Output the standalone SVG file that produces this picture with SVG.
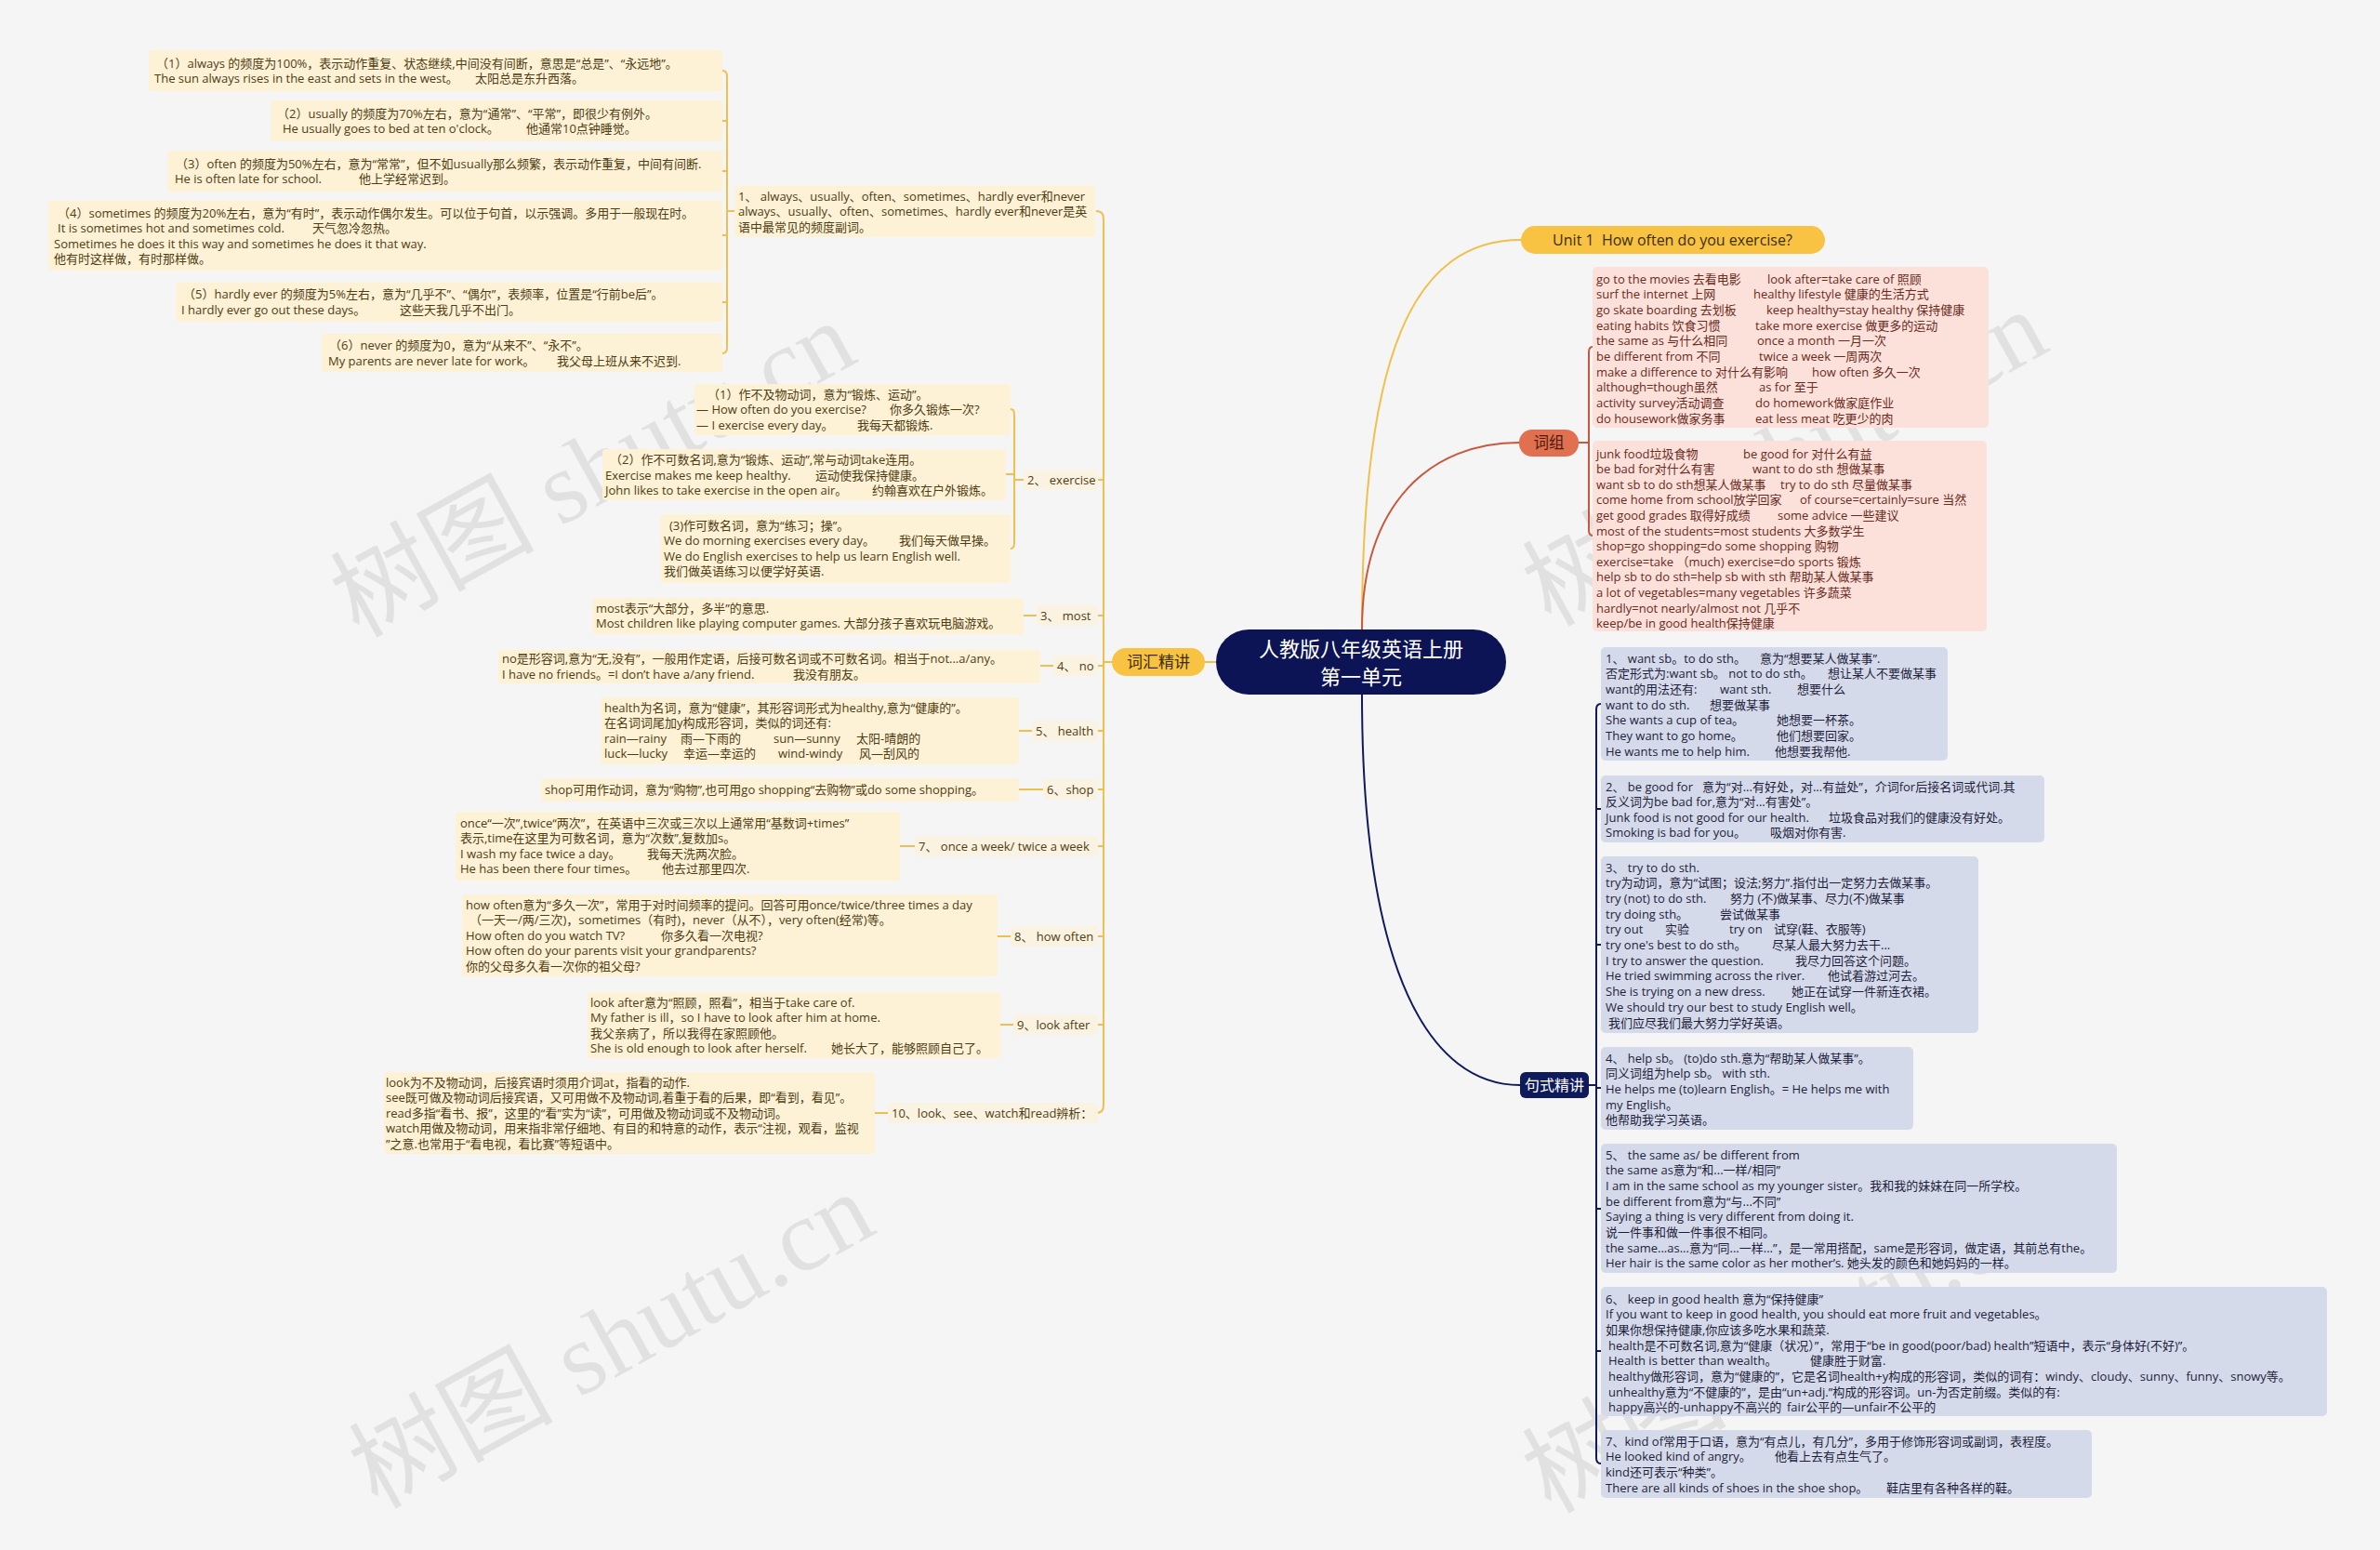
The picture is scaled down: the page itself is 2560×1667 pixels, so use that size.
<svg xmlns="http://www.w3.org/2000/svg" width="2560" height="1667" viewBox="0 0 2560 1667">
<style>
text{font-family:"Open Sans","Noto Sans CJK SC",sans-serif;font-size:13px;}
.y{fill:#4f3d12}
.p{fill:#6b2a1c}
.b{fill:#1e1e3c}
.by{fill:#fdf1d6}
.bl{fill:#fbf3e1}
.bp{fill:#fbe1da}
.bb{fill:#d5daea}
.cy{fill:none;stroke:#f0c04a;stroke-width:2}
.cr{fill:none;stroke:#c9573c;stroke-width:2}
.cn{fill:none;stroke:#0e1a5c;stroke-width:2}
.wm{font-family:"Liberation Serif","Noto Sans CJK SC",serif;font-size:110px;fill:#000;fill-opacity:0.08}
</style>
<rect x="0" y="0" width="2560" height="1667" fill="#f5f5f5"/>

<g id="watermark">
<text class="wm" x="645" y="540" text-anchor="middle" transform="rotate(-29 645 518)">树图 shutu.cn</text>
<text class="wm" x="665" y="1477" text-anchor="middle" transform="rotate(-29 665 1455)">树图 shutu.cn</text>
<text class="wm" x="1927" y="528" text-anchor="middle" transform="rotate(-29 1927 506)">树图 shutu.cn</text>
<text class="wm" x="1927" y="1482" text-anchor="middle" transform="rotate(-29 1927 1460)">树图 shutu.cn</text>
</g>

<g id="connectors">
<path class="cy" d="M1465,677 C1465,380 1520,258 1636,258"/>
<path class="cr" d="M1465,677 C1465,540 1540,476 1634,476"/>
<path class="cn" d="M1465,747 C1465,1050 1540,1167 1635,1167"/>
<path class="cy" d="M1296,712 H1308"/>
<path class="cy" d="M1179,227 Q1187,227 1187,235 V1189 Q1187,1197 1179,1197"/>
<path class="cy" d="M1187,712 H1196 M1181,516 H1187 M1181,662 H1187 M1181,716 H1187 M1181,786 H1187 M1181,849 H1187 M1181,910 H1187 M1181,1007 H1187 M1181,1102 H1187"/>
<path class="cy" d="M777,76 Q782,76 782,82 V374 Q782,380 777,380 M777,130 H782 M777,184 H782 M777,253 H782 M777,325 H782 M782,227 H790"/>
<path class="cy" d="M1087,440 Q1091,440 1091,446 V584 Q1091,590 1087,590 M1082,510 H1091 M1091,516 H1101"/>
<path class="cy" d="M1101,662 H1115 M1119,716 H1133 M1096,786 H1110 M1096,849 H1122 M968,910 H984 M1073,1007 H1087 M1076,1102 H1090 M941,1197 H955"/>
<path class="cr" d="M1713,373 Q1709,373 1709,379 V570 Q1709,576 1713,576 M1698,476 H1709"/>
<path class="cn" d="M1722,757 Q1717,757 1717,763 V1568 Q1717,1574 1722,1574 M1717,870 H1722 M1717,1016 H1722 M1717,1170 H1722 M1717,1300 H1722 M1717,1453 H1722 M1709,1167 H1717"/>
</g>

<g id="root">
<rect x="1308" y="677" width="312" height="70" rx="35" fill="#0c1456"/>
<text x="1464" y="706" text-anchor="middle" fill="#ffffff" style="font-size:22px">人教版八年级英语上册</text>
<text x="1464" y="736" text-anchor="middle" fill="#ffffff" style="font-size:22px">第一单元</text>
</g>

<g id="unit1">
<rect x="1636" y="243" width="327" height="30" rx="15" fill="#f8c243"/>
<text x="1799" y="264" text-anchor="middle" fill="#3d2d05" style="font-size:16px" xml:space="preserve">Unit 1  How often do you exercise?</text>
</g>

<g id="cihui">
<rect x="1196" y="697" width="100" height="30" rx="15" fill="#f8c243"/>
<text x="1246" y="718" text-anchor="middle" fill="#3d2d05" style="font-size:17px">词汇精讲</text>
</g>

<g id="cizu">
<rect x="1634" y="462" width="64" height="29" rx="14" fill="#e0704f"/>
<text x="1666" y="482" text-anchor="middle" fill="#4b1a0c" style="font-size:16.5px">词组</text>
</g>

<g id="jushi">
<rect x="1635" y="1153" width="74" height="28" rx="6" fill="#0e1a5c"/>
<text x="1672" y="1173" text-anchor="middle" fill="#ffffff" style="font-size:16px">句式精讲</text>
</g>

<g id="item1">
<rect class="by" x="790" y="200" width="388" height="55" rx="4"/>
<text class="y"><tspan x="794" y="215.5">1、 always、usually、often、sometimes、hardly ever和never</tspan><tspan x="794" y="232">always、usually、often、sometimes、hardly ever和never是英</tspan><tspan x="794" y="248.5">语中最常见的频度副词。</tspan></text>
</g>

<g id="item1-1">
<rect class="by" x="160" y="54" width="617" height="44" rx="4"/>
<text class="y"><tspan x="168" y="72.5">（1）always 的频度为100%，表示动作重复、状态继续,中间没有间断，意思是“总是”、“永远地”。</tspan><tspan x="166" y="88.5">The sun always rises in the east and sets in the west。</tspan><tspan x="511" y="88.5">太阳总是东升西落。</tspan></text>
</g>
<g id="item1-2">
<rect class="by" x="291" y="108" width="486" height="44" rx="4"/>
<text class="y"><tspan x="298" y="126.5">（2）usually 的频度为70%左右，意为“通常”、“平常”，即很少有例外。</tspan><tspan x="304" y="142.5">He usually goes to bed at ten o'clock。</tspan><tspan x="566" y="142.5">他通常10点钟睡觉。</tspan></text>
</g>
<g id="item1-3">
<rect class="by" x="180" y="162" width="597" height="44" rx="4"/>
<text class="y"><tspan x="189" y="180.5">（3）often 的频度为50%左右，意为“常常”，但不如usually那么频繁，表示动作重复，中间有间断.</tspan><tspan x="188" y="196.5">He is often late for school.</tspan><tspan x="386" y="196.5">他上学经常迟到。</tspan></text>
</g>
<g id="item1-4">
<rect class="by" x="52" y="216" width="725" height="75" rx="4"/>
<text class="y"><tspan x="62" y="233.5">（4）sometimes 的频度为20%左右，意为“有时”，表示动作偶尔发生。可以位于句首，以示强调。多用于一般现在时。</tspan><tspan x="62" y="250">It is sometimes hot and sometimes cold.</tspan><tspan x="336" y="250">天气忽冷忽热。</tspan><tspan x="58" y="266.5">Sometimes he does it this way and sometimes he does it that way.</tspan><tspan x="58" y="283">他有时这样做，有时那样做。</tspan></text>
</g>
<g id="item1-5">
<rect class="by" x="189" y="304" width="588" height="42" rx="4"/>
<text class="y"><tspan x="197" y="321">（5）hardly ever 的频度为5%左右，意为“几乎不”、“偶尔”，表频率，位置是“行前be后”。</tspan><tspan x="195" y="337.5">I hardly ever go out these days。</tspan><tspan x="430" y="337.5">这些天我几乎不出门。</tspan></text>
</g>
<g id="item1-6">
<rect class="by" x="346" y="359" width="431" height="41" rx="4"/>
<text class="y"><tspan x="354" y="376">（6）never 的频度为0，意为“从来不”、“永不”。</tspan><tspan x="353" y="392.5">My parents are never late for work。</tspan><tspan x="599" y="392.5">我父母上班从来不迟到.</tspan></text>
</g>

<g id="item2">
<rect class="bl" x="1101" y="505" width="80" height="22" rx="3"/>
<text class="y" x="1105" y="520.5">2、 exercise</text>
</g>
<g id="item2-1">
<rect class="by" x="747" y="413" width="340" height="55" rx="4"/>
<text class="y"><tspan x="761" y="428.5">（1）作不及物动词，意为“锻炼、运动”。</tspan><tspan x="749" y="445">— How often do you exercise?</tspan><tspan x="957" y="445">你多久锻炼一次?</tspan><tspan x="749" y="461.5">— I exercise every day。</tspan><tspan x="922" y="461.5">我每天都锻炼.</tspan></text>
</g>
<g id="item2-2">
<rect class="by" x="648" y="483" width="434" height="55" rx="4"/>
<text class="y"><tspan x="656" y="499">（2）作不可数名词,意为“锻炼、运动”,常与动词take连用。</tspan><tspan x="651" y="515.5">Exercise makes me keep healthy.</tspan><tspan x="877" y="515.5">运动使我保持健康。</tspan><tspan x="651" y="532">John likes to take exercise in the open air。</tspan><tspan x="938" y="532">约翰喜欢在户外锻炼。</tspan></text>
</g>
<g id="item2-3">
<rect class="by" x="710" y="553" width="377" height="74" rx="4"/>
<text class="y"><tspan x="720" y="569.5">(3)作可数名词，意为“练习；操”。</tspan><tspan x="714" y="586">We do morning exercises every day。</tspan><tspan x="967" y="586">我们每天做早操。</tspan><tspan x="714" y="602.5">We do English exercises to help us learn English well.</tspan><tspan x="714" y="619">我们做英语练习以便学好英语.</tspan></text>
</g>

<g id="item3">
<rect class="bl" x="1115" y="651" width="66" height="22" rx="3"/>
<text class="y" x="1119" y="666.5">3、 most</text>
</g>
<g id="item3-1">
<rect class="by" x="637" y="643" width="464" height="39" rx="4"/>
<text class="y"><tspan x="641" y="658.5">most表示“大部分，多半”的意思.</tspan><tspan x="641" y="675">Most children like playing computer games. 大部分孩子喜欢玩电脑游戏。</tspan></text>
</g>

<g id="item4">
<rect class="bl" x="1133" y="705" width="48" height="22" rx="3"/>
<text class="y" x="1137" y="720.5">4、 no</text>
</g>
<g id="item4-1">
<rect class="by" x="536" y="699" width="583" height="36" rx="4"/>
<text class="y"><tspan x="540" y="713">no是形容词,意为“无,没有”，一般用作定语，后接可数名词或不可数名词。相当于not...a/any。</tspan><tspan x="540" y="729.5">I have no friends。=I don’t have a/any friend.</tspan><tspan x="853" y="729.5">我没有朋友。</tspan></text>
</g>

<g id="item5">
<rect class="bl" x="1110" y="775" width="71" height="22" rx="3"/>
<text class="y" x="1114" y="790.5">5、 health</text>
</g>
<g id="item5-1">
<rect class="by" x="646" y="750" width="450" height="72" rx="4"/>
<text class="y"><tspan x="650" y="765.5">health为名词，意为“健康”，其形容词形式为healthy,意为“健康的”。</tspan><tspan x="650" y="782">在名词词尾加y构成形容词，类似的词还有:</tspan><tspan x="650" y="798.5">rain—rainy</tspan><tspan x="732" y="798.5">雨—下雨的</tspan><tspan x="832" y="798.5">sun—sunny</tspan><tspan x="921" y="798.5">太阳-晴朗的</tspan><tspan x="650" y="815">luck—lucky</tspan><tspan x="735" y="815">幸运—幸运的</tspan><tspan x="837" y="815">wind-windy</tspan><tspan x="924" y="815">风—刮风的</tspan></text>
</g>

<g id="item6">
<rect class="bl" x="1122" y="838" width="59" height="22" rx="3"/>
<text class="y" x="1126" y="853.5">6、shop</text>
</g>
<g id="item6-1">
<rect class="by" x="582" y="837" width="514" height="25" rx="4"/>
<text class="y" x="586" y="853.5">shop可用作动词，意为“购物”,也可用go shopping“去购物”或do some shopping。</text>
</g>

<g id="item7">
<rect class="bl" x="984" y="899" width="197" height="22" rx="3"/>
<text class="y" x="988" y="914.5">7、 once a week/ twice a week</text>
</g>
<g id="item7-1">
<rect class="by" x="490" y="873" width="478" height="74" rx="4"/>
<text class="y"><tspan x="495" y="889.5">once“一次”,twice“两次”，在英语中三次或三次以上通常用“基数词+times”</tspan><tspan x="495" y="906">表示,time在这里为可数名词，意为“次数”,复数加s。</tspan><tspan x="495" y="922.5">I wash my face twice a day。</tspan><tspan x="696" y="922.5">我每天洗两次脸。</tspan><tspan x="495" y="939">He has been there four times。</tspan><tspan x="712" y="939">他去过那里四次.</tspan></text>
</g>

<g id="item8">
<rect class="bl" x="1087" y="996" width="94" height="22" rx="3"/>
<text class="y" x="1091" y="1011.5">8、 how often</text>
</g>
<g id="item8-1">
<rect class="by" x="497" y="962" width="576" height="88" rx="4"/>
<text class="y"><tspan x="501" y="977.5">how often意为“多久一次”，常用于对时间频率的提问。回答可用once/twice/three times a day</tspan><tspan x="505" y="994">（一天一/两/三次)，sometimes（有时)，never（从不），very often(经常)等。</tspan><tspan x="501" y="1010.5">How often do you watch TV?</tspan><tspan x="711" y="1010.5">你多久看一次电视?</tspan><tspan x="501" y="1027">How often do your parents visit your grandparents?</tspan><tspan x="501" y="1043.5">你的父母多久看一次你的祖父母?</tspan></text>
</g>

<g id="item9">
<rect class="bl" x="1090" y="1091" width="91" height="22" rx="3"/>
<text class="y" x="1094" y="1106.5">9、look after</text>
</g>
<g id="item9-1">
<rect class="by" x="632" y="1067" width="444" height="71" rx="4"/>
<text class="y"><tspan x="635" y="1082.5">look after意为“照顾，照看”，相当于take care of.</tspan><tspan x="635" y="1099">My father is ill，so I have to look after him at home.</tspan><tspan x="635" y="1115.5">我父亲病了，所以我得在家照顾他。</tspan><tspan x="635" y="1132">She is old enough to look after herself.</tspan><tspan x="894" y="1132">她长大了，能够照顾自己了。</tspan></text>
</g>

<g id="item10">
<rect class="bl" x="955" y="1186" width="226" height="22" rx="3"/>
<text class="y" x="959" y="1201.5">10、look、see、watch和read辨析：</text>
</g>
<g id="item10-1">
<rect class="by" x="413" y="1153" width="528" height="88" rx="4"/>
<text class="y"><tspan x="415" y="1168.5">look为不及物动词，后接宾语时须用介词at，指看的动作.</tspan><tspan x="415" y="1185">see既可做及物动词后接宾语，又可用做不及物动词,着重于看的后果，即“看到，看见”。</tspan><tspan x="415" y="1201.5">read多指“看书、报”，这里的“看”实为“读”，可用做及物动词或不及物动词。</tspan><tspan x="415" y="1218">watch用做及物动词，用来指非常仔细地、有目的和特意的动作，表示“注视，观看，监视</tspan><tspan x="415" y="1234.5">”之意.也常用于“看电视，看比赛”等短语中。</tspan></text>
</g>

<g id="cizu-1">
<rect class="bp" x="1713" y="287" width="426" height="173" rx="5"/>
<text class="p"><tspan x="1717" y="304.5">go to the movies 去看电影</tspan><tspan x="1901" y="304.5">look after=take care of 照顾</tspan><tspan x="1717" y="321.2">surf the internet 上网</tspan><tspan x="1886" y="321.2">healthy lifestyle 健康的生活方式</tspan><tspan x="1717" y="337.9">go skate boarding 去划板</tspan><tspan x="1900" y="337.9">keep healthy=stay healthy 保持健康</tspan><tspan x="1717" y="354.6">eating habits 饮食习惯</tspan><tspan x="1888" y="354.6">take more exercise 做更多的运动</tspan><tspan x="1717" y="371.3">the same as 与什么相同</tspan><tspan x="1890" y="371.3">once a month 一月一次</tspan><tspan x="1717" y="388">be different from 不同</tspan><tspan x="1892" y="388">twice a week 一周两次</tspan><tspan x="1717" y="404.7">make a difference to 对什么有影响</tspan><tspan x="1949" y="404.7">how often 多久一次</tspan><tspan x="1717" y="421.4">although=though虽然</tspan><tspan x="1892" y="421.4">as for 至于</tspan><tspan x="1717" y="438.1">activity survey活动调查</tspan><tspan x="1888" y="438.1">do homework做家庭作业</tspan><tspan x="1717" y="454.8">do housework做家务事</tspan><tspan x="1888" y="454.8">eat less meat 吃更少的肉</tspan></text>
</g>
<g id="cizu-2">
<rect class="bp" x="1713" y="474" width="424" height="205" rx="5"/>
<text class="p" style="font-size:13px"><tspan x="1717" y="492.5">junk food垃圾食物</tspan><tspan x="1875" y="492.5">be good for 对什么有益</tspan><tspan x="1717" y="509.1">be bad for对什么有害</tspan><tspan x="1885" y="509.1">want to do sth 想做某事</tspan><tspan x="1717" y="525.7">want sb to do sth想某人做某事</tspan><tspan x="1915" y="525.7">try to do sth 尽量做某事</tspan><tspan x="1717" y="542.3">come home from school放学回家</tspan><tspan x="1936" y="542.3">of course=certainly=sure 当然</tspan><tspan x="1717" y="558.9">get good grades 取得好成绩</tspan><tspan x="1912" y="558.9">some advice 一些建议</tspan><tspan x="1717" y="575.5">most of the students=most students 大多数学生</tspan><tspan x="1717" y="592.1">shop=go shopping=do some shopping 购物</tspan><tspan x="1717" y="608.7">exercise=take （much) exercise=do sports 锻炼</tspan><tspan x="1717" y="625.3">help sb to do sth=help sb with sth 帮助某人做某事</tspan><tspan x="1717" y="641.9">a lot of vegetables=many vegetables 许多蔬菜</tspan><tspan x="1717" y="658.5">hardly=not nearly/almost not 几乎不</tspan><tspan x="1717" y="675.1">keep/be in good health保持健康</tspan></text>
</g>

<g id="jushi-1">
<rect class="bb" x="1722" y="696" width="373" height="122" rx="5"/>
<text class="b"><tspan x="1727" y="712.5">1、 want sb。to do sth。</tspan><tspan x="1893" y="712.5">意为“想要某人做某事”.</tspan><tspan x="1727" y="729.2">否定形式为:want sb。 not to do sth。</tspan><tspan x="1966" y="729.2">想让某人不要做某事</tspan><tspan x="1727" y="745.9">want的用法还有:</tspan><tspan x="1850" y="745.9">want sth.</tspan><tspan x="1933" y="745.9">想要什么</tspan><tspan x="1727" y="762.6">want to do sth.</tspan><tspan x="1839" y="762.6">想要做某事</tspan><tspan x="1727" y="779.3">She wants a cup of tea。</tspan><tspan x="1911" y="779.3">她想要一杯茶。</tspan><tspan x="1727" y="796">They want to go home。</tspan><tspan x="1911" y="796">他们想要回家。</tspan><tspan x="1727" y="812.7">He wants me to help him.</tspan><tspan x="1909" y="812.7">他想要我帮他.</tspan></text>
</g>
<g id="jushi-2">
<rect class="bb" x="1722" y="834" width="477" height="72" rx="5"/>
<text class="b" xml:space="preserve"><tspan x="1727" y="850.5">2、 be good for   意为“对...有好处，对...有益处”，介词for后接名词或代词.其</tspan><tspan x="1727" y="867">反义词为be bad for,意为“对...有害处”。</tspan><tspan x="1727" y="883.5">Junk food is not good for our health.</tspan><tspan x="1967" y="883.5">垃圾食品对我们的健康没有好处。</tspan><tspan x="1727" y="900">Smoking is bad for you。</tspan><tspan x="1904" y="900">吸烟对你有害.</tspan></text>
</g>
<g id="jushi-3">
<rect class="bb" x="1722" y="921" width="406" height="190" rx="5"/>
<text class="b"><tspan x="1727" y="937.5">3、 try to do sth.</tspan><tspan x="1727" y="954.2">try为动词，意为“试图；设法;努力”.指付出一定努力去做某事。</tspan><tspan x="1727" y="970.9">try (not) to do sth.</tspan><tspan x="1861" y="970.9">努力 (不)做某事、尽力(不)做某事</tspan><tspan x="1727" y="987.6">try doing sth。</tspan><tspan x="1850" y="987.6">尝试做某事</tspan><tspan x="1727" y="1004.3">try out</tspan><tspan x="1791" y="1004.3">实验</tspan><tspan x="1860" y="1004.3">try on</tspan><tspan x="1908" y="1004.3">试穿(鞋、衣服等)</tspan><tspan x="1727" y="1021">try one's best to do sth。</tspan><tspan x="1906" y="1021">尽某人最大努力去干...</tspan><tspan x="1727" y="1037.7">I try to answer the question.</tspan><tspan x="1931" y="1037.7">我尽力回答这个问题。</tspan><tspan x="1727" y="1054.4">He tried swimming across the river.</tspan><tspan x="1966" y="1054.4">他试着游过河去。</tspan><tspan x="1727" y="1071.1">She is trying on a new dress.</tspan><tspan x="1927" y="1071.1">她正在试穿一件新连衣裙。</tspan><tspan x="1727" y="1087.8">We should try our best to study English well。</tspan><tspan x="1730" y="1104.5">我们应尽我们最大努力学好英语。</tspan></text>
</g>
<g id="jushi-4">
<rect class="bb" x="1722" y="1126" width="336" height="89" rx="5"/>
<text class="b"><tspan x="1727" y="1142.5">4、 help sb。 (to)do sth.意为“帮助某人做某事”。</tspan><tspan x="1727" y="1159.2">同义词组为help sb。 with sth.</tspan><tspan x="1727" y="1175.9">He helps me (to)learn English。= He helps me with</tspan><tspan x="1727" y="1192.6">my English。</tspan><tspan x="1727" y="1209.3">他帮助我学习英语。</tspan></text>
</g>
<g id="jushi-5">
<rect class="bb" x="1722" y="1230" width="555" height="139" rx="5"/>
<text class="b"><tspan x="1727" y="1246.5">5、 the same as/ be different from</tspan><tspan x="1727" y="1263.2">the same as意为“和...一样/相同”</tspan><tspan x="1727" y="1279.9">I am in the same school as my younger sister。我和我的妹妹在同一所学校。</tspan><tspan x="1727" y="1296.6">be different from意为“与...不同”</tspan><tspan x="1727" y="1313.3">Saying a thing is very different from doing it.</tspan><tspan x="1727" y="1330">说一件事和做一件事很不相同。</tspan><tspan x="1727" y="1346.7">the same...as...意为“同...一样...”，是一常用搭配，same是形容词，做定语，其前总有the。</tspan><tspan x="1727" y="1363.4">Her hair is the same color as her mother’s. 她头发的颜色和她妈妈的一样。</tspan></text>
</g>
<g id="jushi-6">
<rect class="bb" x="1722" y="1384" width="781" height="139" rx="5"/>
<text class="b"><tspan x="1727" y="1401.5">6、 keep in good health 意为“保持健康”</tspan><tspan x="1727" y="1418.2">If you want to keep in good health, you should eat more fruit and vegetables。</tspan><tspan x="1727" y="1434.9">如果你想保持健康,你应该多吃水果和蔬菜.</tspan><tspan x="1730" y="1451.6">health是不可数名词,意为“健康（状况）”，常用于“be in good(poor/bad) health”短语中，表示“身体好(不好)”。</tspan><tspan x="1730" y="1468.3">Health is better than wealth。</tspan><tspan x="1947" y="1468.3">健康胜于财富.</tspan><tspan x="1730" y="1485">healthy做形容词，意为“健康的”，它是名词health+y构成的形容词，类似的词有：windy、cloudy、sunny、funny、snowy等。</tspan><tspan x="1730" y="1501.7">unhealthy意为“不健康的”，是由“un+adj.”构成的形容词。un-为否定前缀。类似的有:</tspan><tspan x="1730" y="1518.4">happy高兴的-unhappy不高兴的</tspan><tspan x="1922" y="1518.4">fair公平的—unfair不公平的</tspan></text>
</g>
<g id="jushi-7">
<rect class="bb" x="1722" y="1538" width="528" height="73" rx="5"/>
<text class="b"><tspan x="1727" y="1554.5">7、kind of常用于口语，意为“有点儿，有几分”，多用于修饰形容词或副词，表程度。</tspan><tspan x="1727" y="1571.2">He looked kind of angry。</tspan><tspan x="1909" y="1571.2">他看上去有点生气了。</tspan><tspan x="1727" y="1587.9">kind还可表示“种类”。</tspan><tspan x="1727" y="1604.6">There are all kinds of shoes in the shoe shop。</tspan><tspan x="2029" y="1604.6">鞋店里有各种各样的鞋。</tspan></text>
</g>
</svg>
